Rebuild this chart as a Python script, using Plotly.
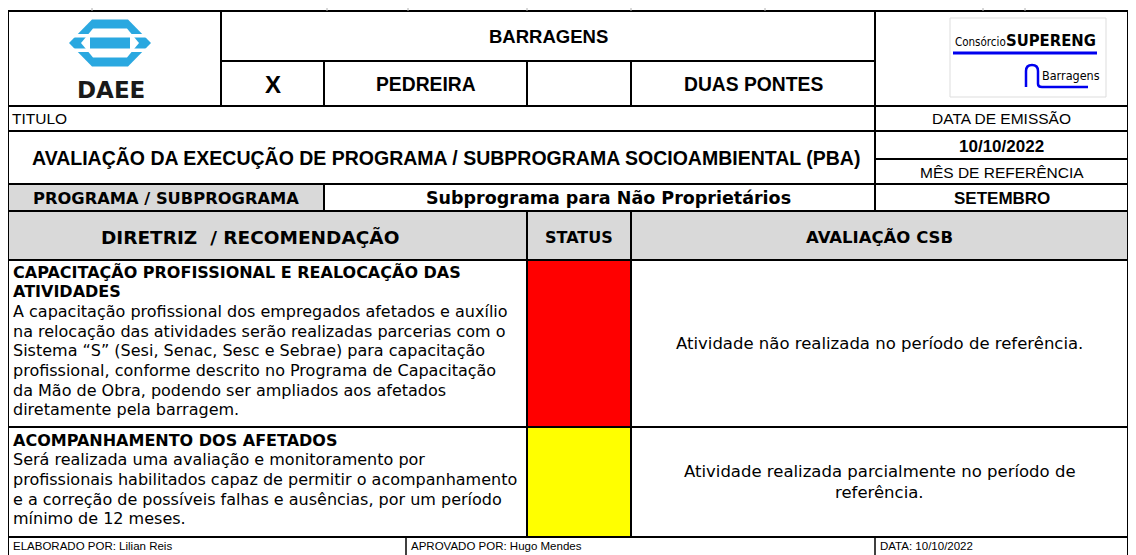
import plotly.graph_objects as go

W, H = 1136, 555
PAGE_OFF = 8  # default body margin of the html page

# ---------------- content ----------------
header_title = "BARRAGENS"
header_options = ["X", "PEDREIRA", "", "DUAS PONTES"]
titulo_label = "TITULO"
titulo_text = "AVALIAÇÃO DA EXECUÇÃO DE PROGRAMA / SUBPROGRAMA SOCIOAMBIENTAL (PBA)"
emissao_label = "DATA DE EMISSÃO"
emissao_date = "10/10/2022"
mes_label = "MÊS DE REFERÊNCIA"
mes_value = "SETEMBRO"
programa_label = "PROGRAMA / SUBPROGRAMA"
programa_value = "Subprograma para Não Proprietários"
col_headers = ["DIRETRIZ  / RECOMENDAÇÃO", "STATUS", "AVALIAÇÃO CSB"]
item_titles = [
    ["CAPACITAÇÃO PROFISSIONAL E REALOCAÇÃO DAS", "ATIVIDADES"],
    ["ACOMPANHAMENTO DOS AFETADOS"],
]
item_bodies = [
    ["A capacitação profissional dos empregados afetados e auxílio",
     "na relocação das atividades serão realizadas parcerias com o",
     "Sistema “S” (Sesi, Senac, Sesc e Sebrae) para capacitação",
     "profissional, conforme descrito no Programa de Capacitação",
     "da Mão de Obra, podendo ser ampliados aos afetados",
     "diretamente pela barragem."],
    ["Será realizada uma avaliação e monitoramento por",
     "profissionais habilitados capaz de permitir o acompanhamento",
     "e a correção de possíveis falhas e ausências, por um período",
     "mínimo de 12 meses."],
]
item_status_colors = ["#FF0000", "#FFFF00"]
item_eval = [
    ["Atividade não realizada no período de referência."],
    ["Atividade realizada parcialmente no período de", "referência."],
]
footer_texts = ["ELABORADO POR: Lilian Reis", "APROVADO POR: Hugo Mendes", "DATA: 10/10/2022"]

# ---------------- geometry (pixel grid of the form) ----------------
XL, XR = 8, 1128
X_LOGO, X_OPT1, X_STAT, X_EVAL, X_RIGHT = 221, 324, 527, 631, 875
X_FOOT = [406, 875]
Y_TOP, Y_MID, Y_HEAD, Y_TIT, Y_DATE, Y_TITLE, Y_PROG, Y_COLH = 11, 61, 106, 131, 159, 184, 211, 260
Y_ROWS = [260, 427, 537]
Y_BOT = 560

ARIAL = "Liberation Sans, Arial, sans-serif"
VERD = "DejaVu Sans, Verdana, sans-serif"
COND = "DejaVu Sans Condensed, Liberation Sans Narrow, Arial Narrow, sans-serif"

shapes = []
ann = []


def hline(y, x0, x1, w=2, color="black"):
    shapes.append(dict(type="line", x0=x0, x1=x1, y0=y, y1=y, line=dict(color=color, width=w), layer="above"))


def vline(x, y0, y1, w=2, color="black"):
    shapes.append(dict(type="line", x0=x, x1=x, y0=y0, y1=y1, line=dict(color=color, width=w), layer="above"))


def rect(x0, y0, x1, y1, fill, lw=0, lc="rgba(0,0,0,0)", layer="below"):
    shapes.append(dict(type="rect", x0=x0, x1=x1, y0=y0, y1=y1, fillcolor=fill,
                       line=dict(width=lw, color=lc), layer=layer))


def text(x, y, s, size, family=ARIAL, bold=False, xanchor="center", color="black"):
    if bold:
        s = "<b>" + s + "</b>"
    ann.append(dict(x=x, y=y, text=s, showarrow=False, xanchor=xanchor, yanchor="middle",
                    font=dict(size=size, family=family, color=color)))


# fills
rect(XL, Y_TITLE, X_OPT1, Y_PROG, "#D9D9D9")
rect(XL, Y_PROG, XR, Y_COLH, "#D9D9D9")
for i, c in enumerate(item_status_colors):
    rect(X_STAT, Y_ROWS[i], X_EVAL, Y_ROWS[i + 1], c)

# grid lines
for y in [Y_TOP, Y_HEAD, Y_TIT, Y_TITLE, Y_PROG, Y_COLH] + Y_ROWS[1:]:
    hline(y, XL, XR)
hline(Y_MID, X_LOGO, X_RIGHT)
hline(Y_DATE, X_RIGHT, XR)
vline(XL, Y_TOP, Y_BOT)
vline(XR, Y_TOP, Y_BOT)
vline(X_LOGO, Y_TOP, Y_HEAD)
vline(X_RIGHT, Y_TOP, Y_PROG)
vline(X_OPT1, Y_MID, Y_HEAD)
vline(X_OPT1, Y_TITLE, Y_PROG)
for x in [X_STAT, X_EVAL]:
    vline(x, Y_MID, Y_HEAD)
    vline(x, Y_PROG, Y_ROWS[-1])
for x in X_FOOT:
    vline(x, Y_ROWS[-1], Y_BOT, w=1.5)
# faint gridline stubs above the form
for x in [92, 327, 408, 527, 631, 765, 983, 1025]:
    vline(x, 8, Y_TOP, w=1, color="#b0b0b0")

# ---------------- DAEE logo ----------------
BLUE = "#2AA8E0"
cx, cy = 110, 43
shapes.append(dict(type="path", path=f"M {cx-18},{cy-23.5} L {cx+18},{cy-23.5} L {cx+41},{cy} L {cx+18},{cy+23.5} L {cx-18},{cy+23.5} L {cx-41},{cy} Z",
                   fillcolor=BLUE, line=dict(width=0), layer="above"))
shapes.append(dict(type="path", path=f"M {cx-17},{cy-14.5} L {cx+17},{cy-14.5} L {cx+29},{cy} L {cx+17},{cy+14.5} L {cx-17},{cy+14.5} L {cx-29},{cy} Z",
                   fillcolor="white", line=dict(width=0), layer="above"))
shapes.append(dict(type="rect", x0=cx-44, x1=cx+44, y0=cy-9, y1=cy-5.5, fillcolor="white", line=dict(width=0), layer="above"))
shapes.append(dict(type="rect", x0=cx-44, x1=cx+44, y0=cy+5.5, y1=cy+9, fillcolor="white", line=dict(width=0), layer="above"))
shapes.append(dict(type="rect", x0=cx-20, x1=cx+20, y0=cy-5.5, y1=cy+5.5, fillcolor=BLUE, line=dict(width=0), layer="above"))
text(111, 90, "DAEE", 23, family="DejaVu Sans, Arial", bold=True, color="#1a1a1a")

# ---------------- SUPERENG logo ----------------
rect(950, 18, 1106, 97, "white", lw=1, lc="#dddddd", layer="above")
text(953, 42, "Consórcio", 11.5, family=COND, xanchor="left")
text(1098, 40, "SUPERENG", 16.5, family=COND, bold=True, xanchor="right")
shapes.append(dict(type="line", x0=953, x1=1097, y0=53, y1=53, line=dict(color="#0000EE", width=3), layer="above"))
shapes.append(dict(type="path", path="M 1026,87 L 1026,71 Q 1026,65 1032,65 Q 1038,65 1038,71 L 1038,84 Q 1038,87 1042,87 L 1088,87",
                   line=dict(color="#0000EE", width=2.5), layer="above"))
text(1102, 75, "Barragens", 12.5, family=COND, xanchor="right")

# ---------------- header texts ----------------
text((X_LOGO + X_RIGHT) / 2, 36, header_title, 18.5, bold=True)
opt_edges = [X_LOGO, X_OPT1, X_STAT, X_EVAL, X_RIGHT]
for i, s in enumerate(header_options):
    if s:
        text((opt_edges[i] + opt_edges[i + 1]) / 2, 84, s, 24 if s == "X" else 19.3, bold=True)

text(10, 118, titulo_label, 15.5, xanchor="left")
text((X_RIGHT + XR) / 2, 118, emissao_label, 15.5)
text(446, 158, titulo_text, 19.5, bold=True)
text((X_RIGHT + XR) / 2, 146, emissao_date, 17, bold=True)
text((X_RIGHT + XR) / 2, 172, mes_label, 15.5)
text((XL + X_OPT1) / 2, 198, programa_label, 16.3, family=VERD, bold=True)
text(608, 198, programa_value, 17.5, family=VERD, bold=True)
text((X_RIGHT + XR) / 2, 198, mes_value, 17, bold=True)

col_centers = [250, (X_STAT + X_EVAL) / 2, (X_EVAL + XR) / 2]
col_sizes = [18.5, 16, 16.5]
for i, s in enumerate(col_headers):
    text(col_centers[i], 237, s, col_sizes[i], family=VERD, bold=True)

# ---------------- items ----------------
LH = 19.7
first_line_y = [272, 440]
eval_sizes = [16.5, 16.5]
for i in range(len(item_titles)):
    y = first_line_y[i]
    for s in item_titles[i]:
        text(11, y, s, 16, family=VERD, bold=True, xanchor="left")
        y += LH
    for s in item_bodies[i]:
        text(11, y, s, 16, family=VERD, xanchor="left")
        y += LH
    ev = item_eval[i]
    mid = (Y_ROWS[i] + Y_ROWS[i + 1]) / 2
    elh = 20.5
    y0 = mid - (len(ev) - 1) * elh / 2
    for k, s in enumerate(ev):
        text((X_EVAL + XR) / 2, y0 + k * elh, s, eval_sizes[i], family=VERD)

# ---------------- footer ----------------
foot_x = [11, X_FOOT[0] + 3, X_FOOT[1] + 3]
for x, s in zip(foot_x, footer_texts):
    text(x, 546, s, 11.5, xanchor="left")

fig = go.Figure()
fig.update_layout(
    width=W, height=H,
    margin=dict(l=0, r=0, t=0, b=0),
    paper_bgcolor="white", plot_bgcolor="white",
    xaxis=dict(range=[PAGE_OFF, W + PAGE_OFF], visible=False, fixedrange=True),
    yaxis=dict(range=[H + PAGE_OFF, PAGE_OFF], visible=False, fixedrange=True),
    shapes=shapes, annotations=ann, showlegend=False,
)
fig.write_html("out.html")
